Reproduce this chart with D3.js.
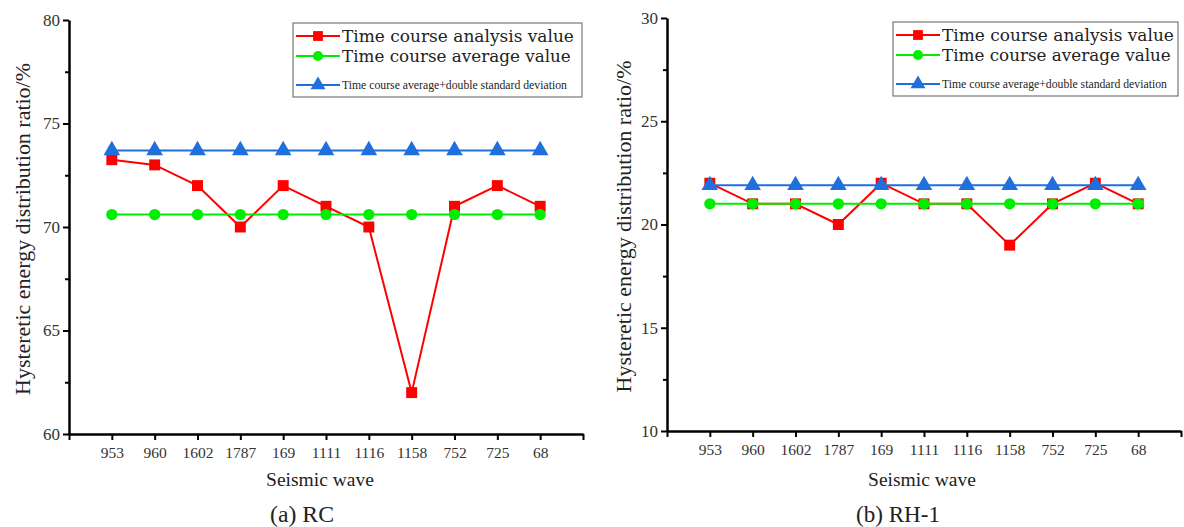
<!DOCTYPE html>
<html>
<head>
<meta charset="utf-8">
<script src="https://cdn.jsdelivr.net/npm/d3@7"></script>
<style>
  body { margin: 0; background: #fff; }
</style>
</head>
<body>
<div id="chart"></div>
<script>
// Seismic wave categories (shared by both panels)
const waves = ["953", "960", "1602", "1787", "169", "1111", "1116", "1158", "752", "725", "68"];

// (a) RC
const rcAnalysis = [73.25, 73, 72, 70, 72, 71, 70, 62, 71, 72, 71];
const rcAverage = [70.6, 70.6, 70.6, 70.6, 70.6, 70.6, 70.6, 70.6, 70.6, 70.6, 70.6];
const rcDouble = [73.7, 73.7, 73.7, 73.7, 73.7, 73.7, 73.7, 73.7, 73.7, 73.7, 73.7];
const rcTicks = [60, 65, 70, 75, 80];

// (b) RH-1
const rhAnalysis = [22, 21, 21, 20, 22, 21, 21, 19, 21, 22, 21];
const rhAverage = [21, 21, 21, 21, 21, 21, 21, 21, 21, 21, 21];
const rhDouble = [21.9, 21.9, 21.9, 21.9, 21.9, 21.9, 21.9, 21.9, 21.9, 21.9, 21.9];
const rhTicks = [10, 15, 20, 25, 30];

const seriesNames = ["Time course analysis value", "Time course average value", "Time course average+double standard deviation"];
const seriesColors = ["#ff0000", "#00ee00", "#1f6fdc"];
const seriesSymbols = [d3.symbolSquare, d3.symbolCircle, d3.symbolTriangle];
const symbolSizes = [120, 100, 120];

const SERIF = "'Liberation Serif', serif";
const LEGENDFONT = "'DejaVu Serif', 'Liberation Serif', serif";

const svg = d3.select("#chart").append("svg")
    .attr("width", 1184)
    .attr("height", 527);

// shrink/grow the font so the text spans roughly the width seen in the picture
function fit(sel, width) {
    const base = parseFloat(sel.style("font-size"));
    const w = sel.node().getComputedTextLength();
    sel.style("font-size", (base * width / w).toFixed(2) + "px");
    return sel;
}

function drawPanel(opts) {
    const { left, right, top, bottom, yTicks, series, caption, legend, titleX, waveX } = opts;
    const g = svg.append("g");

    const x = d3.scaleLinear().domain([0, waves.length + 1]).range([left, right]);
    const y = d3.scaleLinear().domain([yTicks[0], yTicks[yTicks.length - 1]]).range([bottom, top]);

    // minor y ticks
    const minor = [];
    for (let i = 0; i < yTicks.length - 1; i++) minor.push((yTicks[i] + yTicks[i + 1]) / 2);
    g.append("g")
        .attr("transform", `translate(${left},0)`)
        .call(d3.axisLeft(y).tickValues(minor).tickSize(4).tickFormat(""))
        .call(a => a.select(".domain").remove())
        .selectAll("line").attr("stroke", "#000").attr("stroke-width", 2);

    // y axis
    const yAxis = g.append("g")
        .attr("transform", `translate(${left},0)`)
        .call(d3.axisLeft(y).tickValues(yTicks).tickSize(6).tickSizeOuter(0).tickPadding(3));
    yAxis.select(".domain").attr("stroke", "#000").attr("stroke-width", 2.5);
    yAxis.selectAll(".tick line").attr("stroke", "#000").attr("stroke-width", 2);
    yAxis.selectAll("text").style("font-size", "17px").style("font-family", SERIF).attr("fill", "#333");

    // x axis: ticks at each wave and at both ends
    const xVals = d3.range(0, waves.length + 2);
    const xAxis = g.append("g")
        .attr("transform", `translate(0,${bottom})`)
        .call(d3.axisBottom(x).tickValues(xVals).tickSize(6).tickSizeOuter(0).tickPadding(7)
            .tickFormat(i => (i >= 1 && i <= waves.length) ? waves[i - 1] : ""));
    xAxis.select(".domain").attr("stroke", "#000").attr("stroke-width", 2.5);
    xAxis.selectAll(".tick line").attr("stroke", "#000").attr("stroke-width", 2);
    xAxis.selectAll("text").style("font-size", "15.5px").style("font-family", SERIF).attr("fill", "#333");

    // axis titles
    g.append("text")
        .attr("x", waveX)
        .attr("y", 486)
        .attr("text-anchor", "middle")
        .style("font-family", SERIF)
        .style("font-size", "18px")
        .attr("fill", "#222")
        .text("Seismic wave")
        .call(fit, 108);

    g.append("text")
        .attr("transform", `translate(${titleX},${(top + bottom) / 2 + 2}) rotate(-90)`)
        .attr("text-anchor", "middle")
        .attr("dy", "0.35em")
        .style("font-family", SERIF)
        .style("font-size", "18px")
        .attr("fill", "#222")
        .text("Hysteretic energy distribution ratio/%")
        .call(fit, 332);

    g.append("text")
        .attr("x", caption.x)
        .attr("y", 522)
        .attr("text-anchor", "middle")
        .style("font-family", SERIF)
        .style("font-size", "20px")
        .attr("fill", "#222")
        .text(caption.text)
        .call(fit, caption.w);

    // series: lines then markers, in drawing order
    const line = d3.line().x((d, i) => x(i + 1)).y(d => y(d));
    series.forEach((vals, k) => {
        g.append("path")
            .datum(vals)
            .attr("d", line)
            .attr("fill", "none")
            .attr("stroke", seriesColors[k])
            .attr("stroke-width", 2);
        g.selectAll(null)
            .data(vals)
            .enter()
            .append("path")
            .attr("transform", (d, i) => `translate(${x(i + 1)},${y(d)})`)
            .attr("d", d3.symbol(seriesSymbols[k], symbolSizes[k]))
            .attr("fill", seriesColors[k]);
    });

    // legend
    const lg = g.append("g").attr("transform", `translate(${legend.x},${legend.y})`);
    lg.append("rect")
        .attr("width", legend.w)
        .attr("height", 74)
        .attr("fill", "#fff")
        .attr("stroke", "#777")
        .attr("stroke-width", 1.2);
    const rowY = [13, 33, 62];
    const rowW = [232, 229, 225];
    seriesNames.forEach((name, k) => {
        const row = lg.append("g").attr("transform", `translate(0,${rowY[k]})`);
        row.append("line")
            .attr("x1", 3).attr("x2", 47)
            .attr("stroke", seriesColors[k]).attr("stroke-width", 2);
        row.append("path")
            .attr("transform", "translate(25,0)")
            .attr("d", d3.symbol(seriesSymbols[k], symbolSizes[k] * 0.8))
            .attr("fill", seriesColors[k]);
        row.append("text")
            .attr("x", 49)
            .attr("y", 0)
            .attr("dy", "0.35em")
            .style("font-family", k < 2 ? LEGENDFONT : SERIF)
            .style("font-size", "16px")
            .attr("fill", "#222")
            .text(name)
            .call(fit, rowW[k]);
    });
}

drawPanel({
    left: 69, right: 583, top: 20, bottom: 434,
    yTicks: rcTicks,
    series: [rcAnalysis, rcAverage, rcDouble],
    caption: { x: 302, w: 64, text: "(a) RC" },
    legend: { x: 293, y: 23, w: 289 },
    titleX: 22, waveX: 320
});

drawPanel({
    left: 667, right: 1181, top: 18, bottom: 431,
    yTicks: rhTicks,
    series: [rhAnalysis, rhAverage, rhDouble],
    caption: { x: 898, w: 84, text: "(b) RH-1" },
    legend: { x: 893, y: 22, w: 285 },
    titleX: 623, waveX: 922
});
</script>
</body>
</html>
